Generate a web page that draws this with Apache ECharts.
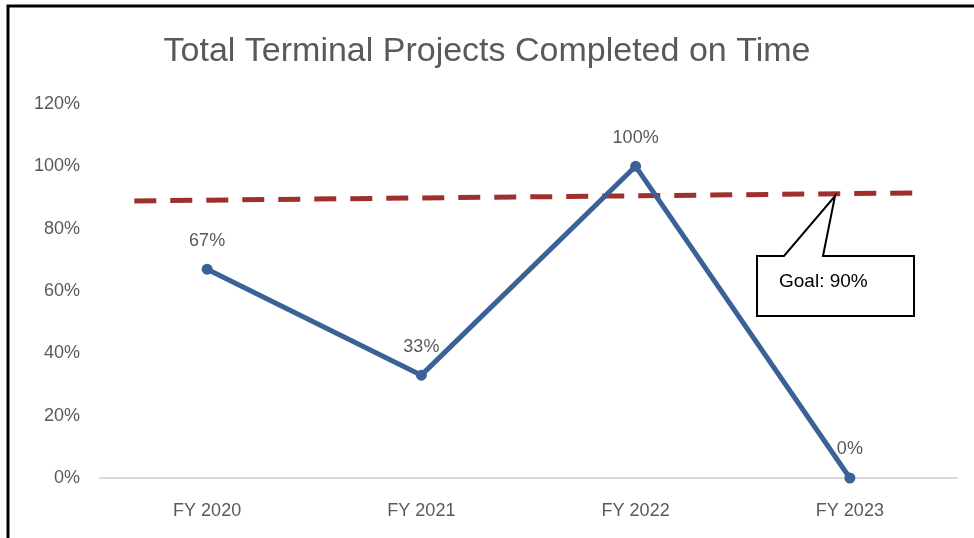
<!DOCTYPE html>
<html>
<head>
<meta charset="utf-8">
<script src="https://cdn.jsdelivr.net/npm/echarts@6/dist/echarts.min.js"></script>
<style>
  html, body { margin: 0; padding: 0; background: #fff; }
  #main { width: 974px; height: 538px; }
</style>
</head>
<body>
<div id="main"></div>
<script>
// data
var years = ['FY 2020', 'FY 2021', 'FY 2022', 'FY 2023'];
var onTime = [67, 33, 100, 0];
// goal line (slightly tilted in the original), x in category units
var goalX = [0.16, 3.84];
var goalY = [88.9, 91.5];
var yTicks = [0, 20, 40, 60, 80, 100, 120];

var myChart = echarts.init(document.getElementById('main'));
var grey = '#595959';
var font = "'Liberation Sans', sans-serif";

var option = {
    backgroundColor: '#fff',
    animation: false,
    title: {
        text: 'Total Terminal Projects Completed on Time',
        left: 'center',
        top: 30,
        textStyle: { color: grey, fontSize: 34, fontWeight: 'normal', fontFamily: font }
    },
    grid: { left: 100, right: 17, top: 104, bottom: 60 },
    xAxis: [
        {
            type: 'category',
            data: years,
            axisLine: { lineStyle: { color: '#d9d9d9', width: 2 } },
            axisTick: { show: false },
            axisLabel: { color: grey, fontSize: 18, margin: 24, fontFamily: font }
        },
        {
            type: 'value', min: 0, max: 4, show: false
        }
    ],
    yAxis: {
        type: 'value',
        min: yTicks[0],
        max: yTicks[yTicks.length - 1],
        interval: 20,
        splitLine: { show: false },
        axisLine: { show: false },
        axisTick: { show: false },
        axisLabel: {
            color: grey, fontSize: 18, margin: 20, fontFamily: font,
            formatter: '{value}%'
        }
    },
    series: [
        {
            name: 'goal',
            type: 'line',
            xAxisIndex: 1,
            data: goalX.map(function (x, i) { return [x, goalY[i]]; }),
            symbol: 'none',
            lineStyle: { color: '#9e2f2d', width: 5, type: [22, 14] },
            silent: true
        },
        {
            name: 'on time',
            type: 'line',
            data: onTime,
            symbol: 'circle',
            symbolSize: 11,
            itemStyle: { color: '#3b6296' },
            lineStyle: { color: '#3b6296', width: 5 },
            label: {
                show: true,
                position: 'top',
                distance: 14,
                color: grey,
                fontSize: 18,
                fontFamily: font,
                formatter: '{c}%'
            },
            z: 3
        }
    ],
    graphic: [
        {
            type: 'polyline',
            shape: { points: [[8, 540], [8, 6], [974, 6]] },
            style: { stroke: '#000', lineWidth: 3, fill: null }
        },
        {
            type: 'polygon',
            shape: {
                points: [[757, 256], [784, 256], [835, 196], [823, 256],
                         [914, 256], [914, 316], [757, 316]]
            },
            style: { fill: '#fff', stroke: '#000', lineWidth: 2 },
            z: 10
        },
        {
            type: 'text',
            left: 779,
            top: 272,
            style: { text: 'Goal: 90%', fill: '#000', fontSize: 19, fontFamily: font },
            z: 11
        }
    ]
};
myChart.setOption(option);
</script>
</body>
</html>
